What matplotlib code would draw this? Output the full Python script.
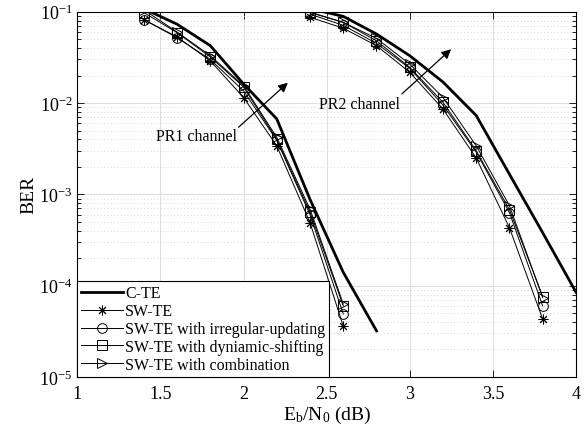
import numpy as np
import matplotlib
matplotlib.use('Agg')
import matplotlib.pyplot as plt
from matplotlib.ticker import LogLocator, NullFormatter

plt.rcParams['font.family'] = 'Liberation Serif'
plt.rcParams['mathtext.fontset'] = 'custom'
plt.rcParams['mathtext.rm'] = 'Liberation Serif'
plt.rcParams['mathtext.it'] = 'Liberation Serif:italic'
plt.rcParams['mathtext.default'] = 'regular'
plt.rcParams['font.size'] = 11.5

# PR1 channel
x1 = [1.4, 1.6, 1.8, 2.0, 2.2, 2.4, 2.6, 2.8]
cte1 = [0.108, 0.073, 0.0425, 0.0162, 0.0067, 8.8e-4, 1.4e-4, 3.2e-5]
x1s = [1.4, 1.6, 1.8, 2.0, 2.2, 2.4, 2.6]
sw1 = [0.082, 0.053, 0.029, 0.0115, 0.0034, 4.9e-4, 3.6e-5]
irr1 = [0.082, 0.052, 0.030, 0.0136, 0.0039, 6.0e-4, 4.9e-5]
dyn1 = [0.098, 0.059, 0.032, 0.0150, 0.0040, 6.4e-4, 6.0e-5]
com1 = [0.105, 0.060, 0.033, 0.0155, 0.0042, 6.9e-4, 6.3e-5]

# PR2 channel
x2 = [2.4, 2.6, 2.8, 3.0, 3.2, 3.4, 3.6, 3.8, 4.0]
cte2 = [0.108, 0.089, 0.057, 0.033, 0.017, 0.0073, 1.66e-3, 3.8e-4, 8.5e-5]
x2s = [2.4, 2.6, 2.8, 3.0, 3.2, 3.4, 3.6, 3.8]
sw2 = [0.087, 0.066, 0.0425, 0.0217, 0.0086, 0.0025, 4.3e-4, 4.3e-5]
irr2 = [0.094, 0.071, 0.045, 0.0240, 0.0095, 0.0029, 6.3e-4, 6.0e-5]
dyn2 = [0.098, 0.0765, 0.048, 0.0246, 0.0102, 0.0030, 6.8e-4, 7.6e-5]
com2 = [0.099, 0.0765, 0.051, 0.0267, 0.0115, 0.0034, 7.5e-4, 7.4e-5]

labels = ['C-TE', 'SW-TE', 'SW-TE with irregular-updating',
          'SW-TE with dyniamic-shifting', 'SW-TE with combination']

fig = plt.figure(figsize=(5.88, 4.39), dpi=100)
ax = fig.add_axes([0.1315, 0.139, 0.848, 0.832])

asterisk = (8, 2, 0)
mk = dict(color='black', lw=0.7, markersize=7, mfc='none', mew=0.7)

for xs, xss, c, s, i, d, cb in [(x1, x1s, cte1, sw1, irr1, dyn1, com1),
                                 (x2, x2s, cte2, sw2, irr2, dyn2, com2)]:
    ax.semilogy(xs, c, color='black', lw=2, label=labels[0])
    ax.semilogy(xss, s, marker=asterisk, label=labels[1], **mk)
    ax.semilogy(xss, i, marker='o', label=labels[2], **mk)
    ax.semilogy(xss, d, marker='s', label=labels[3], **mk)
    ax.semilogy(xss, cb, marker='>', label=labels[4], **mk)

ax.set_xlim(1, 4)
ax.set_ylim(1e-5, 1e-1)
ax.set_xticks([1, 1.5, 2, 2.5, 3, 3.5, 4])
ax.set_xticklabels(['1', '1.5', '2', '2.5', '3', '3.5', '4'])
ax.yaxis.set_minor_locator(LogLocator(base=10, subs=np.arange(2, 10)))
ax.yaxis.set_minor_formatter(NullFormatter())

ax.grid(True, which='major', color='#dddddd', lw=0.7)
ax.grid(True, which='minor', axis='y', color='#cccccc', lw=0.6, ls=(0, (1, 3)))
ax.tick_params(which='both', direction='in', top=True, right=True, labelsize=13)
ax.tick_params(axis='x', pad=6)
ax.tick_params(which='major', length=5, width=0.6)
ax.tick_params(which='minor', length=3, width=0.6)
for sp in ax.spines.values():
    sp.set_linewidth(0.8)

ax.set_xlabel(r'$E_b/N_0$ (dB)', fontsize=14, labelpad=1)
ax.set_ylabel('BER', fontsize=14, labelpad=1)

h, l = ax.get_legend_handles_labels()
leg = ax.legend(h[:5], l[:5], loc='lower left', fancybox=False, edgecolor='black',
                framealpha=1, borderaxespad=0, handlelength=2.6, handletextpad=0.15,
                labelspacing=0.12, borderpad=0.25, fontsize=11.5)
leg.get_frame().set_linewidth(0.8)

ax.annotate('', xy=(2.279, 0.0175), xytext=(1.958, 5.19e-3),
            arrowprops=dict(arrowstyle='-|>', color='black', lw=0.9, mutation_scale=14))
ax.text(1.718, 4.38e-3, 'PR1 channel', ha='center', va='center', fontsize=11.5)
ax.annotate('', xy=(3.261, 0.0407), xytext=(2.940, 0.0120),
            arrowprops=dict(arrowstyle='-|>', color='black', lw=0.9, mutation_scale=14))
ax.text(2.70, 0.0098, 'PR2 channel', ha='center', va='center', fontsize=11.5)

fig.savefig('out.png', dpi=100)
